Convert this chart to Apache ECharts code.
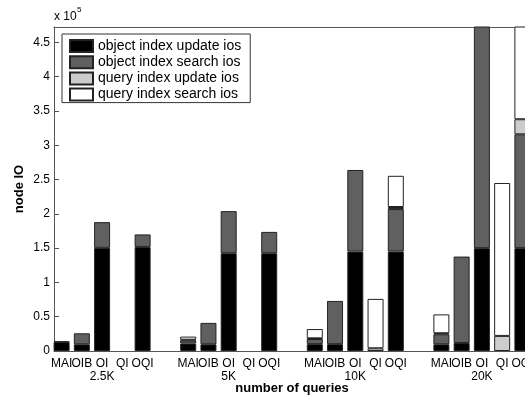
<!DOCTYPE html>
<html>
<head>
<meta charset="utf-8">
<script src="https://cdn.jsdelivr.net/npm/echarts@6/dist/echarts.min.js"></script>
<style>html,body{margin:0;padding:0;background:#fff;}#c{width:525px;height:395px;}</style>
</head>
<body>
<div id="c"></div>
<script>
// ---- data ----
const categories = ['MAI', 'OIB', 'OI', 'QI', 'OQI'];
const groups = ['2.5K', '5K', '10K', '20K'];
const seriesNames = ['object index update ios', 'object index search ios', 'query index update ios', 'query index search ios'];
// values per bar, order: group by group, MAI, OIB, OI, QI, OQI
const objUpdate   = [13000, 9800, 150400, 0, 151800,   11000, 9800, 142600, 0, 142600,   10000, 10000, 145000, 0, 145000,   9800, 11700, 150000, 0, 150000];
const objSearch   = [1000, 16000, 37500, 0, 18200,     4500, 31200, 61400, 0, 31100,     7500, 63000, 119000, 0, 62000,     14600, 126000, 350000, 0, 166000];
const queryUpdate = [0, 0, 0, 0, 0,                    1000, 0, 0, 0, 0,                 1000, 0, 0, 4000, 3000,            1500, 0, 0, 22000, 22000];
const querySearch = [0, 0, 0, 0, 0,                    4500, 0, 0, 0, 0,                 13500, 0, 0, 72000, 45500,         27500, 0, 0, 223000, 150000];
const yTickLabels = ['0', '0.5', '1', '1.5', '2', '2.5', '3', '3.5', '4', '4.5'];

// ---- layout of category slots (quarter-bar slots) ----
const SLOTS = 94;
function slotOf(g, b) { return 1 + 25 * g + 4 * b; }
const xData = new Array(SLOTS).fill('');
groups.forEach((gn, g) => categories.forEach((c, b) => {
  xData[slotOf(g, b)] = b === 2 ? c + '\n' + gn : c;
}));
function expand(arr) {
  const out = new Array(SLOTS).fill('-');
  groups.forEach((gn, g) => categories.forEach((c, b) => {
    const v = arr[g * 5 + b];
    out[slotOf(g, b)] = v === 0 ? '-' : v;
  }));
  return out;
}
const colors = ['#000000', '#606060', '#cccccc', '#ffffff'];
const allData = [objUpdate, objSearch, queryUpdate, querySearch];
const FONT = 'Liberation Sans, Arial, Helvetica, sans-serif';

const chart = echarts.init(document.getElementById('c'), null, { renderer: 'canvas' });
const isTick = (i, v) => v !== '';
chart.setOption({
  animation: false,
  backgroundColor: '#fff',
  textStyle: { fontFamily: FONT },
  grid: { left: 54, top: 27, width: 476, height: 324, containLabel: false, outerBoundsMode: 'none' },
  legend: {
    orient: 'vertical', left: 62, top: 34,
    icon: 'rect',
    itemWidth: 23, itemHeight: 12, itemGap: 2.2,
    padding: [5, 9, 1, 7],
    backgroundColor: '#fff', borderColor: '#333', borderWidth: 1,
    textStyle: { fontSize: 14, color: '#000', fontFamily: FONT },
    data: seriesNames
  },
  graphic: [
    { type: 'text', left: 54, top: 11, style: { text: 'x 10', font: '12px ' + FONT, fill: '#000' } },
    { type: 'text', left: 77, top: 6, style: { text: '5', font: '8px ' + FONT, fill: '#000' } }
  ],
  xAxis: [{
    type: 'category', data: xData, boundaryGap: true, position: 'bottom',
    name: 'number of queries', nameLocation: 'middle', nameGap: 31, nameMoveOverlap: false,
    nameTextStyle: { fontSize: 13, fontWeight: 'bold', color: '#000', fontFamily: FONT },
    axisLine: { lineStyle: { color: '#555', width: 1 } },
    axisTick: { inside: true, length: 5, alignWithLabel: true, interval: isTick, lineStyle: { color: '#555' } },
    axisLabel: { interval: 0, fontSize: 12, lineHeight: 13, color: '#000', margin: 6, hideOverlap: false, fontFamily: FONT }
  }, {
    type: 'category', data: xData, boundaryGap: true, position: 'top',
    axisLine: { lineStyle: { color: '#555', width: 1 } },
    axisTick: { inside: true, length: 5, alignWithLabel: true, interval: isTick, lineStyle: { color: '#555' } },
    axisLabel: { show: false }
  }],
  yAxis: {
    type: 'value', min: 0, max: 472500, interval: 50000,
    name: 'node IO', nameLocation: 'middle', nameGap: 28, nameRotate: 90, nameMoveOverlap: false,
    nameTextStyle: { fontSize: 13, fontWeight: 'bold', color: '#000', fontFamily: FONT },
    axisLine: { show: true, lineStyle: { color: '#555', width: 1 } },
    axisTick: { show: true, inside: true, length: 5, lineStyle: { color: '#555' } },
    splitLine: { show: false },
    axisLabel: {
      fontSize: 12, color: '#000', margin: 4, showMaxLabel: false, fontFamily: FONT,
      formatter: v => { const i = Math.round(v / 50000); return Math.abs(v - i * 50000) < 1 ? (yTickLabels[i] || '') : ''; }
    }
  },
  series: allData.map((arr, k) => ({
    type: 'bar', name: seriesNames[k], stack: 'io', data: expand(arr),
    barWidth: 16, clip: true,
    itemStyle: { color: colors[k], borderColor: '#222', borderWidth: 1 }
  }))
});
</script>
</body>
</html>
